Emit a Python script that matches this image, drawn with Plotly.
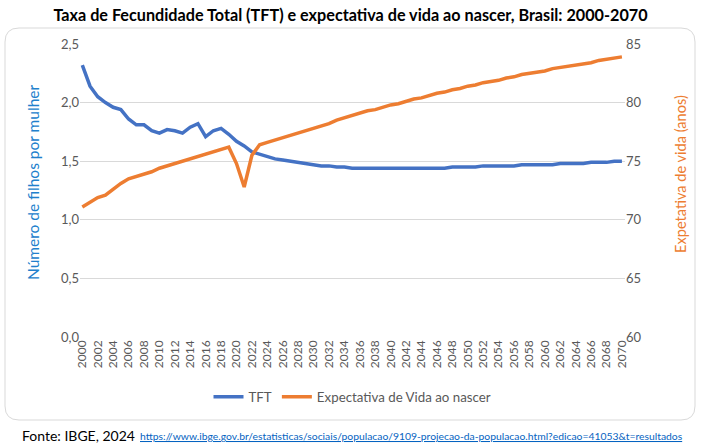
import plotly.graph_objects as go

# data
anos = list(range(2000, 2071))
tft = [2.32, 2.14, 2.05, 2.00, 1.96, 1.94, 1.86, 1.81, 1.81, 1.76,
       1.74, 1.77, 1.76, 1.74, 1.79, 1.82, 1.71, 1.76, 1.78, 1.73,
       1.67, 1.63, 1.58, 1.56, 1.54, 1.52, 1.51, 1.50, 1.49, 1.48,
       1.47, 1.46, 1.46, 1.45, 1.45, 1.44, 1.44, 1.44, 1.44, 1.44,
       1.44, 1.44, 1.44, 1.44, 1.44, 1.44, 1.44, 1.44, 1.45, 1.45,
       1.45, 1.45, 1.46, 1.46, 1.46, 1.46, 1.46, 1.47, 1.47, 1.47,
       1.47, 1.47, 1.48, 1.48, 1.48, 1.48, 1.49, 1.49, 1.49, 1.50,
       1.50]
expectativa = [71.1, 71.5, 71.9, 72.1, 72.6, 73.1, 73.5, 73.7, 73.9, 74.1,
               74.4, 74.6, 74.8, 75.0, 75.2, 75.4, 75.6, 75.8, 76.0, 76.2,
               74.8, 72.8, 75.5, 76.4, 76.6, 76.8, 77.0, 77.2, 77.4, 77.6,
               77.8, 78.0, 78.2, 78.5, 78.7, 78.9, 79.1, 79.3, 79.4, 79.6,
               79.8, 79.9, 80.1, 80.3, 80.4, 80.6, 80.8, 80.9, 81.1, 81.2,
               81.4, 81.5, 81.7, 81.8, 81.9, 82.1, 82.2, 82.4, 82.5, 82.6,
               82.7, 82.9, 83.0, 83.1, 83.2, 83.3, 83.4, 83.6, 83.7, 83.8,
               83.9]
tick_anos = anos[::2]

AZUL = "#4472C4"
LARANJA = "#ED7D31"
CINZA = "#595959"
FONTE = "Lato"

W, H = 701, 446
L, R, T, B = 80, 76, 44, 109
pw, ph = W - L - R, H - T - B

# pixel -> paper helpers
def px(x):
    return (x - L) / pw

def py(y):
    return (H - B - y) / ph

# rounded frame around the chart
def rounded(x0, y0, x1, y1, r):
    rx, ry = r / pw, r / ph
    a, b, c, d = px(x0), py(y0), px(x1), py(y1)
    return (f"M{a+rx},{b} L{c-rx},{b} Q{c},{b} {c},{b-ry} "
            f"L{c},{d+ry} Q{c},{d} {c-rx},{d} L{a+rx},{d} "
            f"Q{a},{d} {a},{d+ry} L{a},{b-ry} Q{a},{b} {a+rx},{b} Z")

fig = go.Figure()
fig.add_trace(go.Scatter(x=anos, y=tft, name="TFT", mode="lines",
                         line=dict(color=AZUL, width=3.5)))
fig.add_trace(go.Scatter(x=anos, y=expectativa, name="Expectativa de Vida ao nascer",
                         mode="lines", yaxis="y2",
                         line=dict(color=LARANJA, width=3.5)))

fig.update_layout(
    width=W, height=H,
    margin=dict(l=L, r=R, t=T, b=B),
    paper_bgcolor="white", plot_bgcolor="white",
    separators=",.",
    font=dict(family=FONTE, color=CINZA),
    title=dict(text="<b>Taxa de Fecundidade Total (TFT) e expectativa de vida ao nascer, Brasil: 2000-2070</b>",
               x=0.5, xanchor="center", y=1 - 15 / H, yanchor="middle",
               font=dict(family=FONTE, size=16.2, color="black")),
    xaxis=dict(range=[1999.7, 2070.4], tickvals=tick_anos, tickangle=-90,
               tickfont=dict(size=12, color=CINZA), showgrid=False,
               showline=False, zeroline=False, ticks=""),
    yaxis=dict(range=[0, 2.5], dtick=0.5, tickformat=".1f",
               tickfont=dict(size=13, color=CINZA), gridcolor="#D9D9D9",
               zeroline=False, ticks="", ticklen=0),
    yaxis2=dict(range=[60, 85], dtick=5, overlaying="y", side="right",
                tickfont=dict(size=13, color=CINZA), showgrid=False,
                zeroline=False, ticks=""),
    legend=dict(orientation="h", x=0.5, xanchor="center", y=py(397), yanchor="middle",
                font=dict(size=13.3, color=CINZA), itemwidth=30),
    shapes=[dict(type="path", xref="paper", yref="paper",
                 path=rounded(5, 28, 695, 420, 14),
                 line=dict(color="#D9D9D9", width=1), layer="below")],
    annotations=[
        dict(text="Número de filhos por mulher", textangle=-90,
             x=px(33), y=py(183), xanchor="center", yanchor="middle",
             xref="paper", yref="paper", showarrow=False,
             font=dict(size=15.5, color="#2180CC")),
        dict(text="Expetativa de vida (anos)", textangle=-90,
             x=px(680), y=py(174), xanchor="center", yanchor="middle",
             xref="paper", yref="paper", showarrow=False,
             font=dict(size=14.6, color=LARANJA)),
        dict(text="Fonte: IBGE, 2024", x=px(20), y=py(435),
             xanchor="left", yanchor="middle",
             xref="paper", yref="paper", showarrow=False,
             font=dict(size=14, color="black")),
        dict(text="<u>https://www.ibge.gov.br/estatisticas/sociais/populacao/9109-projecao-da-populacao.html?edicao=41053&amp;t=resultados</u>",
             x=px(138), y=py(436), xanchor="left", yanchor="middle",
             xref="paper", yref="paper", showarrow=False,
             font=dict(size=10.35, color="#0563C1")),
    ],
)

# page body margin off so the figure sits at the window's top-left corner
fig.write_html("out.html", config={"displayModeBar": False},
               post_script="document.body.style.margin='0';")
